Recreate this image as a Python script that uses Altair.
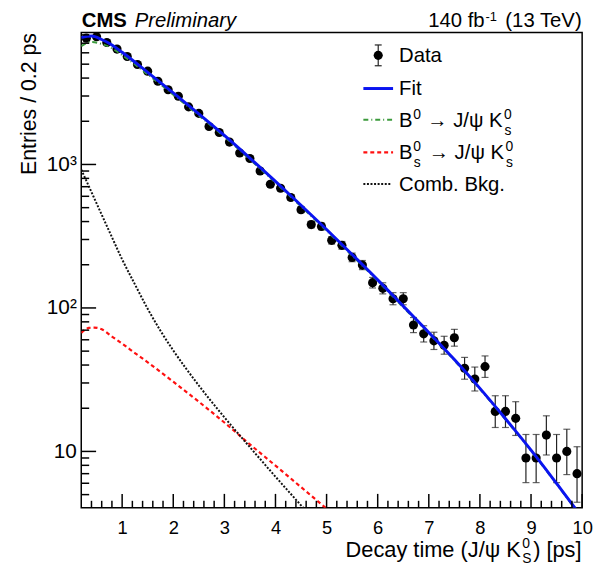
import math
import altair as alt
import pandas as pd

FONT = "Liberation Sans"

# ---------------- data ----------------
t_data = [0.3, 0.5, 0.7, 0.9, 1.1, 1.3, 1.5, 1.7, 1.9, 2.1, 2.3, 2.5, 2.7, 2.9,
          3.1, 3.3, 3.5, 3.7, 3.9, 4.1, 4.3, 4.5, 4.7, 4.9, 5.1, 5.3, 5.5, 5.7,
          5.9, 6.1, 6.3, 6.5, 6.7, 6.9, 7.1, 7.3, 7.5, 7.7, 7.9, 8.1, 8.3, 8.5,
          8.7, 8.9, 9.1, 9.3, 9.5, 9.7, 9.9]
counts = [7590, 7760, 7080, 6370, 5650, 4970, 4470, 3800, 3320, 2990, 2520, 2270,
          1840, 1670, 1432, 1202, 1100, 900, 728, 683, 588, 484, 381, 370, 296,
          273, 225, 199, 150, 137, 116, 116, 76, 66, 59, 55, 62, 38, 32, 39, 19,
          19, 17, 9, 9, 13, 9, 10, 7]

fit_t = [0.2, 0.4, 0.6, 0.8, 1.0, 1.5, 2.0, 2.5, 3.0, 3.5, 4.0, 4.5, 5.0, 5.5,
         6.0, 6.5, 7.0, 7.5, 8.0, 8.5, 9.0, 9.5, 10.0]
fit_v = [7670, 7850, 7430, 6810, 6050, 4385, 3155, 2249, 1592, 1107, 762, 520,
         352, 236, 157, 103, 67.5, 43.7, 27.5, 16.9, 10.2, 5.98, 3.46]

b0_t = fit_t
b0_v = [6680, 7137, 6919, 6457, 5789, 4246, 3068, 2196, 1559, 1085, 747, 510,
        345, 231.5, 154, 101, 66.5, 43.1, 27.2, 16.7, 10.1, 5.93, 3.43]

bs_t = [0.2, 0.3, 0.35, 0.45, 0.6, 0.8, 1.0, 1.25, 1.5, 2.0, 2.5, 3.0, 3.5, 4.0,
        4.5, 5.0, 5.5]
bs_v = [67, 71.4, 72.6, 73, 71, 63.2, 56.4, 48.5, 41.8, 30.6, 22.2, 15.9, 11.2,
        7.96, 5.64, 3.99, 2.82]

comb_t = [0.2, 0.35, 0.5, 0.75, 1.0, 1.25, 1.5, 1.75, 2.0, 2.5, 3.0, 3.5, 4.0,
          4.5, 5.0]
comb_v = [920, 703, 535, 341, 218, 146, 98.6, 69.3, 50.6, 28.8, 17.3, 10.7,
          6.67, 4.21, 2.69]

X_MAJOR = [1, 2, 3, 4, 5, 6, 7, 8, 9, 10]
X_MINOR = [round(0.2 * k, 1) for k in range(2, 50) if k % 5 != 0]
Y_MAJOR = [10, 100, 1000]
Y_LABELS = ["10", "10²", "10³"]
Y_MINOR = [5, 6, 7, 8, 9, 20, 30, 40, 50, 60, 70, 80, 90,
           200, 300, 400, 500, 600, 700, 800, 900,
           2000, 3000, 4000, 5000, 6000, 7000, 8000]

# Poisson (Gehrels) error bars from the counts
lo = [n * (1 - 1 / (9 * n) - 1 / (3 * math.sqrt(n))) ** 3 for n in counts]
hi = [n + math.sqrt(n + 0.75) + 1 for n in counts]

W, H = 506, 480
x_scale = alt.Scale(domain=[0.2, 10], nice=False, zero=False)
y_scale = alt.Scale(type="log", domain=[4.05, 8300], nice=False)

label_expr = " : ".join(
    f"datum.value == {v} ? '{s}'" for v, s in zip(Y_MAJOR[::-1], Y_LABELS[::-1])
) + " : ''"

xaxis = alt.Axis(values=X_MAJOR, format="d", ticks=False, domain=False, grid=False,
                 title=None, labelFontSize=18.5, labelFont=FONT, labelColor="black",
                 labelPadding=11, labelFlush=False, labelOverlap=False)
yaxis = alt.Axis(values=Y_MAJOR, labelExpr=label_expr, ticks=False, domain=False,
                 grid=False, title="Entries / 0.2 ps", titleFontSize=21.5,
                 titleFont=FONT, titleFontWeight="normal", titleColor="black",
                 titleAnchor="end", titlePadding=6, labelFontSize=21,
                 labelFont=FONT, labelColor="black", labelPadding=5,
                 labelFlush=False, labelOverlap=False)


def X(f):
    return alt.X(f, type="quantitative", scale=x_scale, axis=xaxis)


def Y(f):
    return alt.Y(f, type="quantitative", scale=y_scale, axis=yaxis)


df = pd.DataFrame({"t": t_data, "n": counts, "lo": lo, "hi": hi})
base = alt.Chart(df)

err = base.mark_rule(color="#222", strokeWidth=1.2).encode(x=X("t"), y=Y("lo"), y2="hi")
cap_lo = base.mark_tick(orient="horizontal", size=7, thickness=1.2, color="#222").encode(
    x=X("t"), y=Y("lo"))
cap_hi = base.mark_tick(orient="horizontal", size=7, thickness=1.2, color="#222").encode(
    x=X("t"), y=Y("hi"))
pts = base.mark_circle(size=85, color="black", opacity=1).encode(x=X("t"), y=Y("n"))


def curve(ts, vs, color, width, dash=None):
    kw = dict(color=color, strokeWidth=width, clip=True, interpolate="monotone")
    if dash:
        kw["strokeDash"] = dash
    return alt.Chart(pd.DataFrame({"t": ts, "v": vs})).mark_line(**kw).encode(
        x=X("t"), y=Y("v"))


GREEN = "#3c9a3c"
RED = "#ff1010"
BLUE = "#0a14f0"

c_b0 = curve(b0_t, b0_v, GREEN, 2, [5, 3, 1, 3])
c_bs = curve(bs_t, bs_v, RED, 2.2, [4, 3])
c_comb = curve(comb_t, comb_v, "#111", 2, [2, 1.6])
c_fit = curve(fit_t, fit_v, BLUE, 3)

# inward ticks, from the tick value lists
ytk_major = alt.Chart(pd.DataFrame({"v": Y_MAJOR})).mark_rule(
    color="black", strokeWidth=1.5).encode(y=Y("v"), x=alt.value(0), x2=alt.value(15))
ytk_minor = alt.Chart(pd.DataFrame({"v": Y_MINOR})).mark_rule(
    color="black", strokeWidth=1.5).encode(y=Y("v"), x=alt.value(0), x2=alt.value(8))
xtk_major = alt.Chart(pd.DataFrame({"v": X_MAJOR})).mark_rule(
    color="black", strokeWidth=1.5).encode(x=X("v"), y=alt.value(H), y2=alt.value(H - 14))
xtk_minor = alt.Chart(pd.DataFrame({"v": X_MINOR})).mark_rule(
    color="black", strokeWidth=1.5).encode(x=X("v"), y=alt.value(H), y2=alt.value(H - 7))

ONE = pd.DataFrame({"a": [0]})


def txt(s, x, y, size=20.5, align="left", weight="normal", style="normal"):
    return alt.Chart(ONE).mark_text(
        text=s, font=FONT, fontSize=size, align=align, baseline="alphabetic",
        fontWeight=weight, fontStyle=style, color="black").encode(
        x=alt.value(x), y=alt.value(y))


def hline(x1, x2, y, color, width, dash=None):
    kw = dict(color=color, strokeWidth=width)
    if dash:
        kw["strokeDash"] = dash
    return alt.Chart(ONE).mark_rule(**kw).encode(
        x=alt.value(x1), x2=alt.value(x2), y=alt.value(y))


LX = 321
legend = [
    # Data
    alt.Chart(ONE).mark_rule(color="#222", strokeWidth=1.2).encode(
        x=alt.value(300), y=alt.value(12.5), y2=alt.value(33.5)),
    hline(296.5, 303.5, 12.5, "#222", 1.2),
    hline(296.5, 303.5, 33.5, "#222", 1.2),
    alt.Chart(ONE).mark_circle(size=85, color="black", opacity=1).encode(
        x=alt.value(300), y=alt.value(23)),
    txt("Data", LX, 30),
    # Fit
    hline(285, 315, 56.5, BLUE, 3),
    txt("Fit", LX, 63),
    # B0
    hline(285, 315, 88, GREEN, 2, [5, 3, 1, 3]),
    txt("B", LX, 95.5),
    txt("0", 335.5, 87, 14),
    txt("→ J/ψ K", 349.5, 95.5),
    txt("0", 427, 87, 14),
    txt("s", 427.5, 103, 14),
    # Bs
    hline(285, 315, 121, RED, 2.2, [4, 3]),
    txt("B", LX, 128),
    txt("0", 335.5, 119.5, 14),
    txt("s", 336, 135.5, 14),
    txt("→ J/ψ K", 351, 128),
    txt("0", 428.5, 119.5, 14),
    txt("s", 429, 135.5, 14),
    # Comb
    hline(285, 313, 153, "#111", 2, [2, 1.6]),
    txt("Comb. Bkg.", LX, 160.5),
]

annot = [
    txt("CMS", 0.5, -6, 20.5, weight="bold"),
    txt("Preliminary", 54, -6, 20.5, style="italic"),
    txt("(13 TeV)", 505.5, -6, 20.5, align="right"),
    txt("-1", 420, -12, 13, align="right"),
    txt("140 fb", 407.5, -6, 20.5, align="right"),
    # x-axis title
    txt("Decay time (J/ψ K", 444, 530, 22, align="right"),
    txt("0", 445.5, 520.5, 14),
    txt("S", 445.5, 535.5, 14),
    txt(") [ps]", 456.5, 530, 22),
]

chart = alt.layer(
    err, cap_lo, cap_hi, pts, c_b0, c_bs, c_comb, c_fit,
    ytk_major, ytk_minor, xtk_major, xtk_minor, *legend, *annot
).properties(
    width=W, height=H, autosize="none",
    padding={"left": 74, "top": 22, "right": 14, "bottom": 56},
    background="white",
).configure_view(stroke="black", strokeWidth=1.5)

chart.save("out.html", embed_options={"renderer": "svg", "actions": False})
